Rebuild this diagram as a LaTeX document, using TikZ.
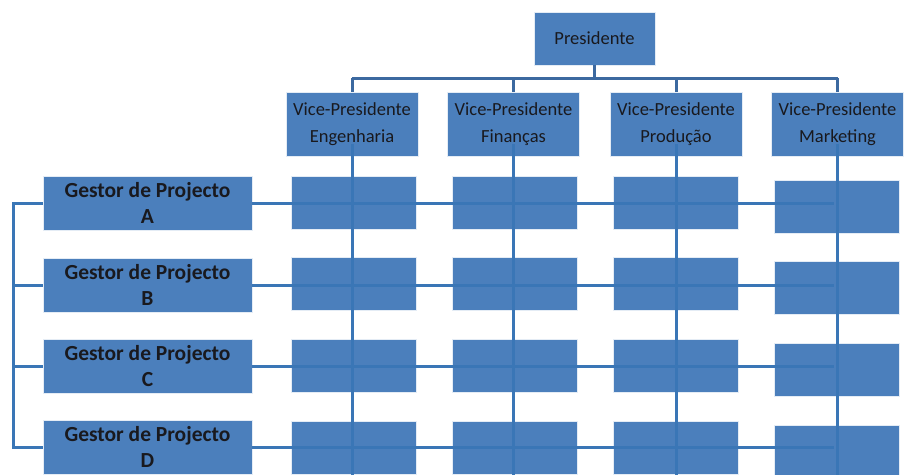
\documentclass[tikz,border=0pt]{standalone}
\usepackage{fontspec}
\setmainfont{Carlito}
\definecolor{boxblue}{RGB}{75,127,188}
\definecolor{lineblue}{RGB}{58,118,182}
\definecolor{treeblue}{RGB}{60,105,160}
\definecolor{ink}{RGB}{25,25,30}
\tikzset{
  x=1pt, y=1pt,
  orgbox/.style={fill=boxblue, draw=white!85!boxblue, line width=0.6pt, inner sep=0pt, text=ink, align=center},
  headbox/.style={orgbox, minimum width=121, minimum height=53, font=\fontsize{18.5}{27}\selectfont},
  vpbox/.style={orgbox, minimum width=132, minimum height=64, font=\fontsize{18.5}{27}\selectfont},
  gestorbox/.style={orgbox, minimum width=209, minimum height=54, font=\bfseries\fontsize{21.5}{26}\selectfont},
  cellbox/.style={orgbox, minimum width=125, minimum height=53},
  link/.style={draw=lineblue, line width=3pt},
  treelink/.style={draw=treeblue, line width=3pt}
}
\begin{document}
\begin{tikzpicture}
\useasboundingbox (0,0) rectangle (920,-474);

% top of the hierarchy
\node[headbox] (pres) at (594.5,-38.5) {Presidente};
\node[vpbox] (vpE) at (352,-124) {Vice-Presidente\\Engenharia};
\node[vpbox] (vpF) at (513.5,-124) {Vice-Presidente\\Finanças};
\node[vpbox] (vpP) at (676,-124) {Vice-Presidente\\Produção};
\node[vpbox] (vpM) at (837.5,-124) {Vice-Presidente\\Marketing};

% project managers
\node[gestorbox] (gA) at (147.5,-203) {Gestor de Projecto\\A};
\node[gestorbox] (gB) at (147.5,-285) {Gestor de Projecto\\B};
\node[gestorbox] (gC) at (147.5,-366) {Gestor de Projecto\\C};
\node[gestorbox] (gD) at (147.5,-447) {Gestor de Projecto\\D};

% matrix cells (row x column)
\foreach \r/\y in {A/-202.5, B/-284, C/-366, D/-448} {
  \node[cellbox] (c\r1) at (354,\y) {};
  \node[cellbox] (c\r2) at (514.5,\y) {};
  \node[cellbox] (c\r3) at (675.5,\y) {};
  \node[cellbox] (c\r4) at (837,\y-4) {};
}

% reporting lines from the president
\coordinate (bus) at (594.5,-78);
\draw[treelink] (pres.south) -- (bus);
\draw[treelink] (vpE.north |- bus) -- (vpM.north |- bus);
\foreach \v in {vpE,vpF,vpP,vpM}
  \draw[treelink] (\v.north |- bus) -- (\v.north);

% functional columns running down through the cells
\coordinate (colend) at (0,-476);
\foreach \v in {vpE,vpF,vpP,vpM}
  \draw[link] ([yshift=12]\v.south) -- (\v.south |- colend);

% project rows running across the cells
\coordinate (rowend) at (834,0);
\foreach \g in {gA,gB,gC,gD}
  \draw[link] (\g.east) -- (\g.east -| rowend);

% left bus joining the project managers
\coordinate (lbus) at (13,0);
\draw[link] (gA.west) -- (gA.west -| lbus) -- (gD.west -| lbus) -- (gD.west);
\draw[link] (gB.west -| lbus) -- (gB.west);
\draw[link] (gC.west -| lbus) -- (gC.west);
\end{tikzpicture}
\end{document}
